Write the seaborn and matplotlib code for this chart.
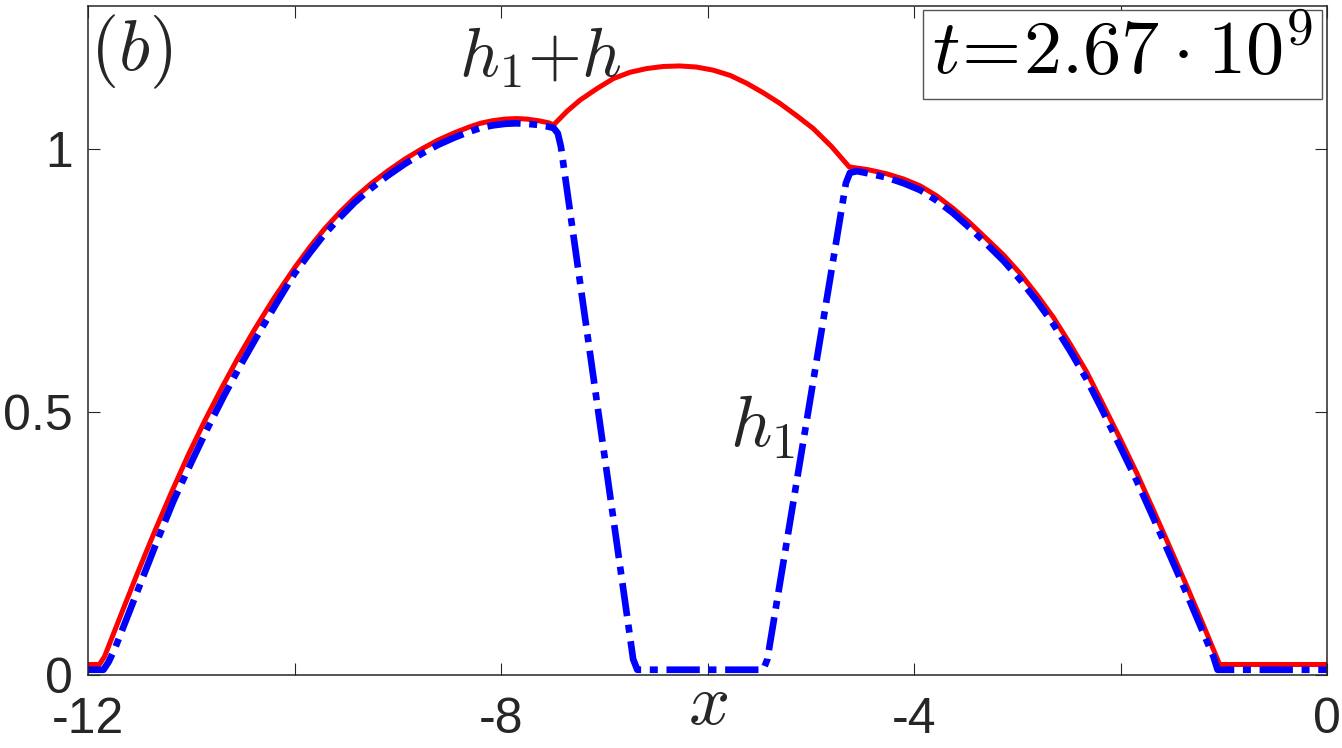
import matplotlib
matplotlib.use("Agg")
import matplotlib.pyplot as plt
import seaborn as sns

# ---- data ----
x_sum = [-12.0, -11.89, -11.84, -11.78, -11.68, -11.52, -11.35, -11.19, -11.03, -10.87,
         -10.71, -10.55, -10.39, -10.20, -10.00, -9.85, -9.71, -9.56, -9.42, -9.26,
         -9.10, -8.93, -8.77, -8.61, -8.45, -8.32, -8.20, -8.08, -7.96, -7.85,
         -7.75, -7.64, -7.54, -7.49,
         -7.36, -7.235, -7.07, -6.912, -6.75, -6.59, -6.43, -6.27, -6.11, -5.944,
         -5.78, -5.62, -5.46, -5.30, -5.14, -4.976, -4.80, -4.627,
         -4.45, -4.265, -4.10, -3.94, -3.78, -3.62, -3.46, -3.30, -3.13, -2.97,
         -2.81, -2.65, -2.49, -2.33, -2.17, -2.005, -1.84, -1.68, -1.52, -1.36,
         -1.20, -1.04, 0.0]
y_sum = [0.02, 0.02, 0.035, 0.065, 0.115, 0.194, 0.275, 0.348, 0.418, 0.483,
         0.544, 0.602, 0.656, 0.716, 0.774, 0.814, 0.848, 0.880, 0.907, 0.934,
         0.958, 0.981, 1.000, 1.017, 1.031, 1.041, 1.049, 1.054, 1.057, 1.058,
         1.057, 1.054, 1.050, 1.046,
         1.072, 1.093, 1.115, 1.134, 1.146, 1.153, 1.157, 1.158, 1.156, 1.150,
         1.140, 1.125, 1.107, 1.087, 1.064, 1.039, 1.005, 0.966,
         0.961, 0.953, 0.943, 0.930, 0.911, 0.887, 0.860, 0.830, 0.798, 0.763,
         0.723, 0.680, 0.630, 0.577, 0.515, 0.450, 0.383, 0.313, 0.242, 0.170,
         0.096, 0.02, 0.02]

x_h1 = [-12.0, -11.85, -11.80, -11.74, -11.64, -11.50, -11.33, -11.17, -11.00, -10.84,
        -10.68, -10.52, -10.36, -10.18, -10.00, -9.85, -9.71, -9.56, -9.42, -9.26,
        -9.10, -8.93, -8.77, -8.61, -8.45, -8.32, -8.20, -8.08, -7.96, -7.85,
        -7.75, -7.64, -7.55, -7.49, -7.45, -7.42,
        -6.72, -6.68, -5.46, -5.42, -4.66, -4.62, -4.55,
        -4.45, -4.265, -4.10, -3.94, -3.78, -3.62, -3.46, -3.30, -3.13, -2.97,
        -2.81, -2.65, -2.49, -2.33, -2.17, -2.005, -1.84, -1.68, -1.52, -1.36,
        -1.20, -1.10, -1.06, 0.0]
y_h1 = [0.01, 0.01, 0.025, 0.05, 0.10, 0.17, 0.255, 0.332, 0.404, 0.470,
        0.532, 0.590, 0.645, 0.705, 0.763, 0.803, 0.838, 0.870, 0.898, 0.925,
        0.949, 0.972, 0.991, 1.008, 1.022, 1.032, 1.040, 1.045, 1.048, 1.049,
        1.048, 1.046, 1.043, 1.040, 1.030, 1.005,
        0.03, 0.01, 0.01, 0.03, 0.935, 0.955, 0.958,
        0.954, 0.946, 0.935, 0.922, 0.902, 0.878, 0.850, 0.820, 0.787, 0.751,
        0.711, 0.667, 0.617, 0.563, 0.501, 0.435, 0.368, 0.298, 0.227, 0.155,
        0.081, 0.035, 0.01, 0.01]

x_ticks = [-12, -10, -8, -6, -4, -2, 0]
x_ticklabels = ['-12', '', '-8', '', '-4', '', '0']
y_ticks = [0, 0.5, 1]
y_ticklabels = ['0', '0.5', '1']

sns.set_theme(style="ticks")
plt.rcParams['font.family'] = ['Liberation Sans', 'DejaVu Sans']
plt.rcParams['mathtext.fontset'] = 'cm'

fig = plt.figure(figsize=(13.42, 7.48), dpi=100)
ax = fig.add_axes([88/1342, (748-675)/748, 1239/1342, 669/748])

sns.lineplot(x=x_sum, y=y_sum, color='#ff0000', linewidth=3.6, ax=ax,
             estimator=None, sort=False)
sns.lineplot(x=x_h1, y=y_h1, color='#0000ff', linewidth=4.8, ax=ax,
             estimator=None, sort=False)
ax.lines[-1].set_dashes([5, 1.3, 1.2, 1.3])
ax.lines[-1].set_dash_capstyle('butt')
ax.lines[0].set_solid_joinstyle('round')

ax.set_xlim(-12, 0)
ax.set_ylim(0, 1.272)
ax.set_xticks(x_ticks)
ax.set_xticklabels(x_ticklabels)
ax.set_yticks(y_ticks)
ax.set_yticklabels(y_ticklabels)
ax.tick_params(direction='in', length=8.5, width=0.8, colors='#262626',
               labelsize=36, top=True, right=True)
ax.tick_params(axis='x', pad=16)
ax.tick_params(axis='y', pad=11)
for s in ax.spines.values():
    s.set_visible(True)
    s.set_color('#262626')
    s.set_linewidth(1.1)

ax.set_xlabel(r'$x$', fontsize=52, color='#262626')
ax.xaxis.set_label_coords(0.5, -0.045)
ax.xaxis.label.set_verticalalignment('center')
ax.set_ylabel('')

ax.text(0.002, 0.931, r'$(b)$', transform=ax.transAxes, fontsize=52,
        color='#262626', ha='left', va='center')
ax.text(-7.62, 1.173, r'$h_1{+}h$', fontsize=50, color='#262626',
        ha='center', va='center')
ax.text(-5.47, 0.47, r'$h_1$', fontsize=52, color='#262626',
        ha='center', va='center')
ax.text(0.835, 0.9275, r'$t\!=\!2.67\cdot10^9$', transform=ax.transAxes,
        fontsize=55, color='black', ha='center', va='center',
        bbox=dict(boxstyle='square,pad=0.12', fc='white', ec='#555555', lw=1.0))

fig.savefig('out.png', dpi=100)
